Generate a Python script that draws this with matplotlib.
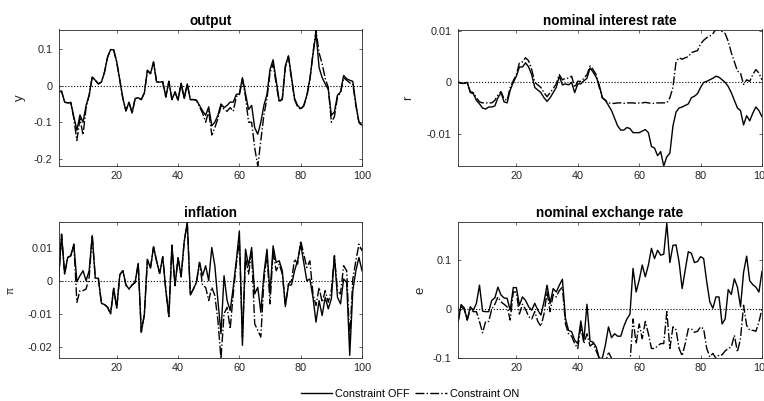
import numpy as np
import matplotlib
matplotlib.use("Agg")
import matplotlib.pyplot as plt

plt.rcParams["font.family"] = ["Liberation Sans", "DejaVu Sans"]
plt.rcParams["axes.unicode_minus"] = False

periods = np.arange(1, 101)

output_off = [
    -0.017, -0.015, -0.045, -0.047, -0.046, -0.085, -0.122, -0.080, -0.100, -0.054,
    -0.026, 0.024, 0.015, 0.005, 0.010, 0.037, 0.078, 0.099, 0.098, 0.065,
    0.015, -0.035, -0.069, -0.045, -0.075, -0.035, -0.033, -0.038, -0.020, 0.042,
    0.033, 0.065, 0.010, 0.010, 0.011, -0.031, 0.012, -0.038, -0.017, -0.040,
    0.007, -0.035, 0.005, -0.038, -0.038, -0.040, -0.054, -0.069, -0.081, -0.058,
    -0.110, -0.100, -0.081, -0.050, -0.060, -0.054, -0.045, -0.045, -0.024, -0.022,
    0.022, -0.022, -0.065, -0.054, -0.115, -0.133, -0.100, -0.054, -0.024, 0.045,
    0.071, 0.015, -0.042, -0.038, 0.055, 0.082, 0.024, -0.035, -0.054, -0.063,
    -0.055, -0.026, 0.019, 0.085, 0.145, 0.050, 0.022, 0.005, -0.010, -0.081,
    -0.072, -0.026, -0.017, 0.028, 0.019, 0.015, 0.012, -0.050, -0.100, -0.108,
]
output_on = [
    -0.017, -0.015, -0.045, -0.047, -0.046, -0.090, -0.150, -0.090, -0.135, -0.060,
    -0.026, 0.024, 0.015, 0.005, 0.010, 0.037, 0.078, 0.099, 0.098, 0.065,
    0.015, -0.035, -0.069, -0.045, -0.075, -0.035, -0.033, -0.038, -0.020, 0.042,
    0.033, 0.065, 0.010, 0.010, 0.011, -0.031, 0.012, -0.038, -0.017, -0.040,
    0.007, -0.035, 0.005, -0.038, -0.038, -0.040, -0.058, -0.075, -0.100, -0.070,
    -0.135, -0.115, -0.090, -0.055, -0.065, -0.070, -0.060, -0.070, -0.030, -0.025,
    0.018, -0.030, -0.100, -0.100, -0.170, -0.220, -0.150, -0.080, -0.035, 0.035,
    0.060, 0.005, -0.045, -0.035, 0.050, 0.080, 0.018, -0.038, -0.058, -0.065,
    -0.055, -0.030, 0.015, 0.090, 0.152, 0.090, 0.060, 0.020, -0.005, -0.100,
    -0.085, -0.030, -0.020, 0.022, 0.015, 0.008, 0.005, -0.055, -0.100, -0.112,
]

rate_off = [
    0.0001, -0.0002, -0.0002, 0.0000, -0.0020, -0.0022, -0.0035, -0.0042, -0.0050, -0.0052,
    -0.0048, -0.0048, -0.0046, -0.0030, -0.0020, -0.0038, -0.0040, -0.0015, 0.0000, 0.0012,
    0.0030, 0.0030, 0.0038, 0.0030, 0.0015, -0.0010, -0.0015, -0.0020, -0.0030, -0.0037,
    -0.0030, -0.0020, -0.0010, 0.0012, -0.0005, -0.0003, -0.0005, 0.0000, -0.0020, -0.0003,
    -0.0003, 0.0003, 0.0008, 0.0028, 0.0020, 0.0010, -0.0005, -0.0030, -0.0035, -0.0045,
    -0.0055, -0.0070, -0.0085, -0.0093, -0.0093, -0.0088, -0.0090, -0.0098, -0.0098, -0.0098,
    -0.0095, -0.0092, -0.0098, -0.0125, -0.0128, -0.0143, -0.0135, -0.0163, -0.0145, -0.0138,
    -0.0085, -0.0058, -0.0050, -0.0048, -0.0045, -0.0042, -0.0030, -0.0027, -0.0022, -0.0010,
    0.0000, 0.0002, 0.0005, 0.0008, 0.0012, 0.0010, 0.0005, 0.0000, -0.0008, -0.0020,
    -0.0035, -0.0050, -0.0055, -0.0083, -0.0065, -0.0075, -0.0060, -0.0048, -0.0055, -0.0067,
]
rate_on = [
    0.0001, -0.0002, -0.0002, 0.0000, -0.0018, -0.0020, -0.0030, -0.0038, -0.0040, -0.0040,
    -0.0040, -0.0040, -0.0035, -0.0025, -0.0018, -0.0032, -0.0035, -0.0010, 0.0003, 0.0015,
    0.0038, 0.0040, 0.0048, 0.0042, 0.0025, 0.0000, -0.0005, -0.0010, -0.0020, -0.0028,
    -0.0020, -0.0012, -0.0003, 0.0015, 0.0005, 0.0008, 0.0008, 0.0012, -0.0010, 0.0002,
    0.0002, 0.0008, 0.0015, 0.0032, 0.0025, 0.0015, -0.0010, -0.0030, -0.0035, -0.0040,
    -0.0041, -0.0041, -0.0040, -0.0040, -0.0041, -0.0040, -0.0040, -0.0040, -0.0041, -0.0040,
    -0.0040, -0.0039, -0.0040, -0.0041, -0.0041, -0.0040, -0.0040, -0.0040, -0.0040, -0.0030,
    -0.0010, 0.0040, 0.0048, 0.0045, 0.0048, 0.0050, 0.0058, 0.0060, 0.0062, 0.0075,
    0.0082, 0.0087, 0.0090, 0.0095, 0.0103, 0.0101, 0.0099, 0.0095, 0.0080, 0.0058,
    0.0040, 0.0022, 0.0018, -0.0004, 0.0005, 0.0002, 0.0015, 0.0025, 0.0018, 0.0005,
]

inflation_off = [
    0.0000, 0.0140, 0.0020, 0.0070, 0.0075, 0.0110, -0.0003, 0.0015, 0.0030, 0.0000,
    0.0030, 0.0136, 0.0008, 0.0007, -0.0068, -0.0072, -0.0080, -0.0100, -0.0023, -0.0083,
    0.0018, 0.0030, -0.0013, -0.0025, -0.0013, -0.0005, 0.0052, -0.0155, -0.0103, 0.0064,
    0.0038, 0.0102, 0.0059, 0.0022, 0.0072, -0.0028, -0.0108, 0.0107, -0.0015, 0.0069,
    0.0012, 0.0117, 0.0176, -0.0043, -0.0025, -0.0005, 0.0055, 0.0015, 0.0045, 0.0000,
    0.0100, 0.0045, -0.0060, -0.0160, 0.0015, -0.0060, -0.0090, -0.0020, 0.0060, 0.0150,
    -0.0195, 0.0095, 0.0045, 0.0100, -0.0040, -0.0020, -0.0095, 0.0020, 0.0095, -0.0040,
    0.0105, 0.0055, 0.0060, 0.0030, -0.0078, -0.0013, -0.0013, 0.0030, 0.0060, 0.0110,
    0.0055, 0.0000, 0.0005, -0.0050, -0.0125, -0.0060, -0.0105, -0.0050, -0.0085, -0.0055,
    0.0075, -0.0050, -0.0070, 0.0005, -0.0005, -0.0225, -0.0030, 0.0030, 0.0070, 0.0030,
]
inflation_on = [
    0.0000, 0.0140, 0.0020, 0.0070, 0.0075, 0.0110, -0.0065, -0.0030, -0.0030, -0.0025,
    0.0010, 0.0136, 0.0008, 0.0007, -0.0068, -0.0072, -0.0080, -0.0100, -0.0023, -0.0083,
    0.0018, 0.0030, -0.0013, -0.0025, -0.0013, -0.0005, 0.0052, -0.0155, -0.0103, 0.0064,
    0.0038, 0.0102, 0.0059, 0.0022, 0.0072, -0.0028, -0.0108, 0.0107, -0.0015, 0.0069,
    0.0012, 0.0117, 0.0176, -0.0043, -0.0025, -0.0005, 0.0055, -0.0015, -0.0020, -0.0060,
    -0.0020, -0.0045, -0.0120, -0.0235, -0.0100, -0.0080, -0.0145, -0.0040, 0.0050, 0.0120,
    -0.0170, 0.0070, 0.0020, 0.0085, -0.0130, -0.0150, -0.0170, 0.0000, 0.0080, -0.0070,
    0.0090, 0.0030, 0.0050, 0.0020, -0.0075, -0.0010, 0.0000, 0.0065, 0.0050, 0.0120,
    0.0080, 0.0040, 0.0060, -0.0040, -0.0075, -0.0020, -0.0065, -0.0030, -0.0065, -0.0030,
    0.0075, -0.0030, -0.0040, 0.0045, 0.0030, -0.0180, 0.0005, 0.0060, 0.0110, 0.0090,
]

exchange_off = [
    -0.026, 0.0095, 0.003, -0.022, 0.005, -0.002, 0.012, 0.049, -0.004, -0.005,
    -0.005, 0.018, 0.023, 0.045, 0.029, 0.023, 0.022, -0.002, 0.044, 0.044,
    0.008, 0.025, 0.018, 0.005, -0.002, 0.012, -0.002, -0.012, 0.015, 0.049,
    0.012, 0.042, 0.035, 0.049, 0.061, -0.019, -0.043, -0.046, -0.063, -0.070,
    -0.024, -0.063, 0.010, -0.065, -0.067, -0.077, -0.100, -0.100, -0.073, -0.036,
    -0.058, -0.050, -0.055, -0.055, -0.035, -0.020, -0.010, 0.083, 0.035, 0.059,
    0.090, 0.066, 0.090, 0.124, 0.103, 0.120, 0.110, 0.112, 0.175, 0.095,
    0.130, 0.131, 0.096, 0.042, 0.080, 0.117, 0.114, 0.095, 0.097, 0.107,
    0.103, 0.056, 0.015, 0.002, 0.025, 0.025, -0.030, -0.020, 0.040, 0.030,
    0.062, 0.045, 0.005, 0.075, 0.108, 0.058, 0.050, 0.045, 0.035, 0.077,
]
exchange_on = [
    -0.026, 0.005, 0.000, -0.022, 0.000, -0.005, -0.005, -0.025, -0.048, -0.025,
    -0.025, 0.000, 0.010, 0.025, 0.015, 0.010, 0.005, -0.022, 0.035, 0.035,
    -0.010, 0.010, 0.000, -0.015, -0.020, -0.005, -0.025, -0.035, -0.010, 0.035,
    -0.005, 0.030, 0.025, 0.038, 0.045, -0.030, -0.050, -0.055, -0.070, -0.080,
    -0.035, -0.070, -0.050, -0.075, -0.070, -0.085, -0.100, -0.105, -0.110, -0.087,
    -0.100, -0.110, -0.115, -0.110, -0.120, -0.115, -0.110, -0.020, -0.070, -0.030,
    -0.060, -0.025, -0.050, -0.080, -0.080, -0.075, -0.070, -0.070, -0.005, -0.080,
    -0.036, -0.042, -0.080, -0.095, -0.070, -0.040, -0.040, -0.047, -0.045, -0.036,
    -0.040, -0.080, -0.097, -0.090, -0.100, -0.093, -0.093, -0.085, -0.080, -0.077,
    -0.053, -0.087, -0.060, 0.008, -0.033, -0.043, -0.043, -0.045, -0.026, 0.000,
]

titles = ["output", "nominal interest rate", "inflation", "nominal exchange rate"]
ylabels = ["y", "r", "\u03c0", "e"]
xticks = [20, 40, 60, 80, 100]
yticks = [
    [-0.2, -0.1, 0, 0.1],
    [-0.01, 0, 0.01],
    [-0.02, -0.01, 0, 0.01],
    [-0.1, 0, 0.1],
]
ytick_labels = [
    ["-0.2", "-0.1", "0", "0.1"],
    ["-0.01", "0", "0.01"],
    ["-0.02", "-0.01", "0", "0.01"],
    ["-0.1", "0", "0.1"],
]
ylims = [(-0.22, 0.154), (-0.0163, 0.0103), (-0.0234, 0.0176), (-0.1, 0.177)]
series = [
    (output_off, output_on),
    (rate_off, rate_on),
    (inflation_off, inflation_on),
    (exchange_off, exchange_on),
]

W, H = 764, 401
fig = plt.figure(figsize=(W / 100, H / 100), dpi=100)

# panel boxes in pixels: left, top, right, bottom
boxes = [
    (58.5, 29.5, 362.0, 166.0),
    (458.0, 29.5, 762.0, 166.0),
    (58.5, 222.3, 362.0, 358.3),
    (458.0, 222.3, 762.0, 358.3),
]
label_x = [-0.107, -0.145, -0.14, -0.105]
label_size = [9.5, 9.5, 7.5, 9.5]

axis_gray = "#262626"
handles = None
for i, (l, t, r, b) in enumerate(boxes):
    ax = fig.add_axes([l / W, 1 - b / H, (r - l) / W, (b - t) / H])
    off, on = series[i]
    h1, = ax.plot(periods, off, color="black", lw=1.0, linestyle="-")
    h2, = ax.plot(periods, on, color="black", lw=1.0, linestyle="-.")
    ax.axhline(0, color="black", lw=0.8, linestyle=":")
    handles = (h1, h2)
    ax.set_xlim(1, 100)
    ax.set_ylim(*ylims[i])
    ax.set_xticks(xticks)
    ax.set_xticklabels([str(v) for v in xticks])
    ax.set_yticks(yticks[i])
    ax.set_yticklabels(ytick_labels[i])
    ax.tick_params(direction="in", top=True, right=True, length=2.3, width=0.5,
                   labelsize=7.8, colors=axis_gray, pad=3.5)
    ax.tick_params(axis="y", pad=4.5)
    for sp in ax.spines.values():
        sp.set_linewidth(0.6)
        sp.set_color(axis_gray)
    ax.set_title(titles[i], fontsize=9.8, fontweight="bold", pad=3.5)
    ax.set_ylabel(ylabels[i], fontsize=label_size[i], color=axis_gray)
    ax.yaxis.set_label_coords(label_x[i], 0.5)

fig.legend(handles, ["Constraint OFF", "Constraint ON"], loc="center",
           bbox_to_anchor=(410 / W, 1 - 394 / H), ncol=2, frameon=False,
           fontsize=7.8, handlelength=2.9, handletextpad=0.3, columnspacing=0.5)

fig.savefig("out.png", dpi=100)
